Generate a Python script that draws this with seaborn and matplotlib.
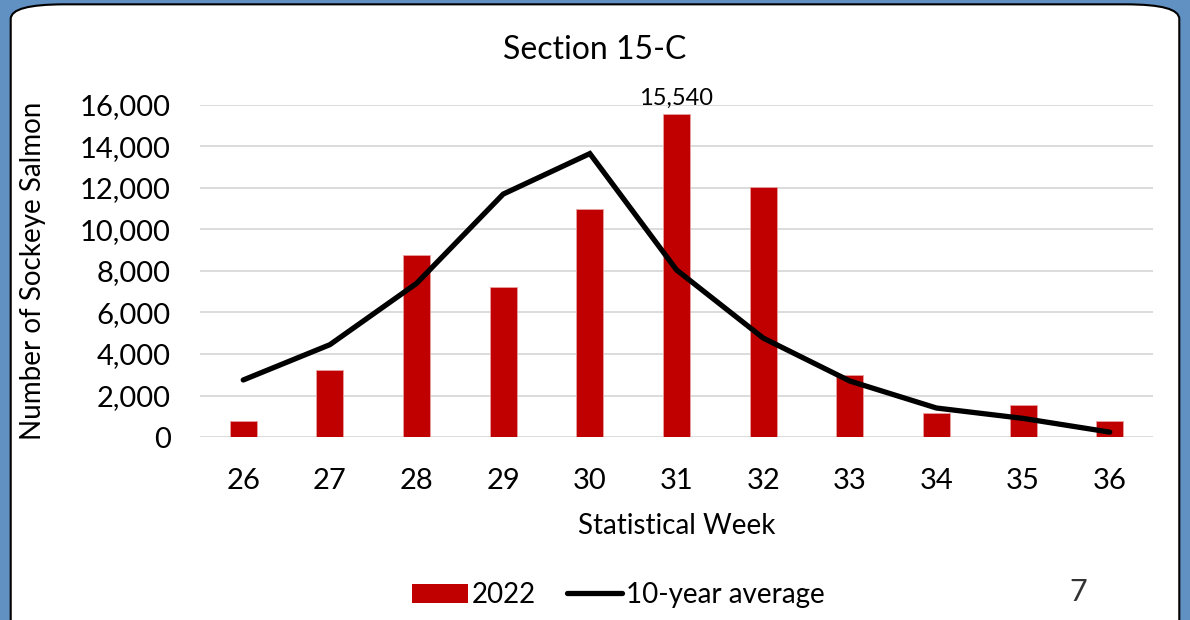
import pandas as pd
import matplotlib.pyplot as plt
import seaborn as sns
from matplotlib.patches import FancyBboxPatch, Patch
from matplotlib.lines import Line2D
from matplotlib.ticker import FuncFormatter

# values
weeks = ['26', '27', '28', '29', '30', '31', '32', '33', '34', '35', '36']
catch_2022 = [760, 3250, 8770, 7230, 11000, 15540, 12050, 3000, 1140, 1540, 760]
avg_10yr = [2750, 4450, 7400, 11700, 13650, 8050, 4770, 2700, 1400, 900, 240]
y_ticks = [0, 2000, 4000, 6000, 8000, 10000, 12000, 14000, 16000]

df = pd.DataFrame({'week': weeks, 'y2022': catch_2022, 'avg': avg_10yr})

sns.set_style('white')
plt.rcParams['font.family'] = ['Lato', 'DejaVu Sans']
plt.rcParams['text.color'] = 'black'
plt.rcParams['axes.labelcolor'] = 'black'

fig = plt.figure(figsize=(11.9, 6.2), dpi=100)
fig.patch.set_facecolor('#6190c2')
# white rounded card behind everything
card = FancyBboxPatch((0.009, -0.05), 0.982, 1.043, boxstyle='round,pad=0,rounding_size=0.045',
                      transform=fig.transFigure, facecolor='white', edgecolor='black', linewidth=1.5,
                      mutation_aspect=620 / 1190, zorder=-5)
fig.patches.append(card)

ax = fig.add_axes([0.168, 0.295, 0.801, 0.536])
ax.set_facecolor('none')

sns.barplot(data=df, x='week', y='y2022', color='#c00000', width=0.31, saturation=1, ax=ax, zorder=2,
            edgecolor='#e8a0a0', linewidth=0.6)
sns.lineplot(data=df, x='week', y='avg', color='black', linewidth=3.8, sort=False, ax=ax, zorder=3,
             solid_capstyle='round', solid_joinstyle='miter')

ax.set_xlim(-0.5, len(weeks) - 0.5)
ax.set_ylim(0, 16000)
ax.set_yticks(y_ticks)
ax.yaxis.set_major_formatter(FuncFormatter(lambda v, p: f'{int(v):,}'))
ax.grid(axis='y', color='#d9d9d9', linewidth=1.3, zorder=0)
ax.set_axisbelow(True)
for s in ax.spines.values():
    s.set_visible(False)
ax.tick_params(axis='both', length=0, labelsize=21, colors='black')
ax.tick_params(axis='y', pad=21)
ax.tick_params(axis='x', pad=22)

# data label on the peak bar
peak = catch_2022.index(max(catch_2022))
ax.text(peak, catch_2022[peak] + 250, f'{catch_2022[peak]:,}', ha='center', va='bottom',
        fontsize=17, clip_on=False)

ax.set_xlabel('Statistical Week', fontsize=20, labelpad=14)
ax.set_ylabel('Number of Sockeye Salmon', fontsize=20, labelpad=24)
fig.text(0.5, 0.92, 'Section 15-C', ha='center', va='center', fontsize=23)

handles = [Patch(facecolor='#c00000', edgecolor='none'),
           Line2D([0], [0], color='black', linewidth=3.8, solid_capstyle='round')]
fig.legend(handles, ['2022', '10-year average'], loc='center', bbox_to_anchor=(0.52, 0.04),
           ncol=2, frameon=False, fontsize=20, handlelength=2.0, handleheight=0.7,
           handletextpad=0.15, columnspacing=1.1)

fig.text(0.906, 0.045, '7', ha='center', va='center', fontsize=22, color='#333333')

fig.savefig('out.png', dpi=100, facecolor=fig.get_facecolor())
